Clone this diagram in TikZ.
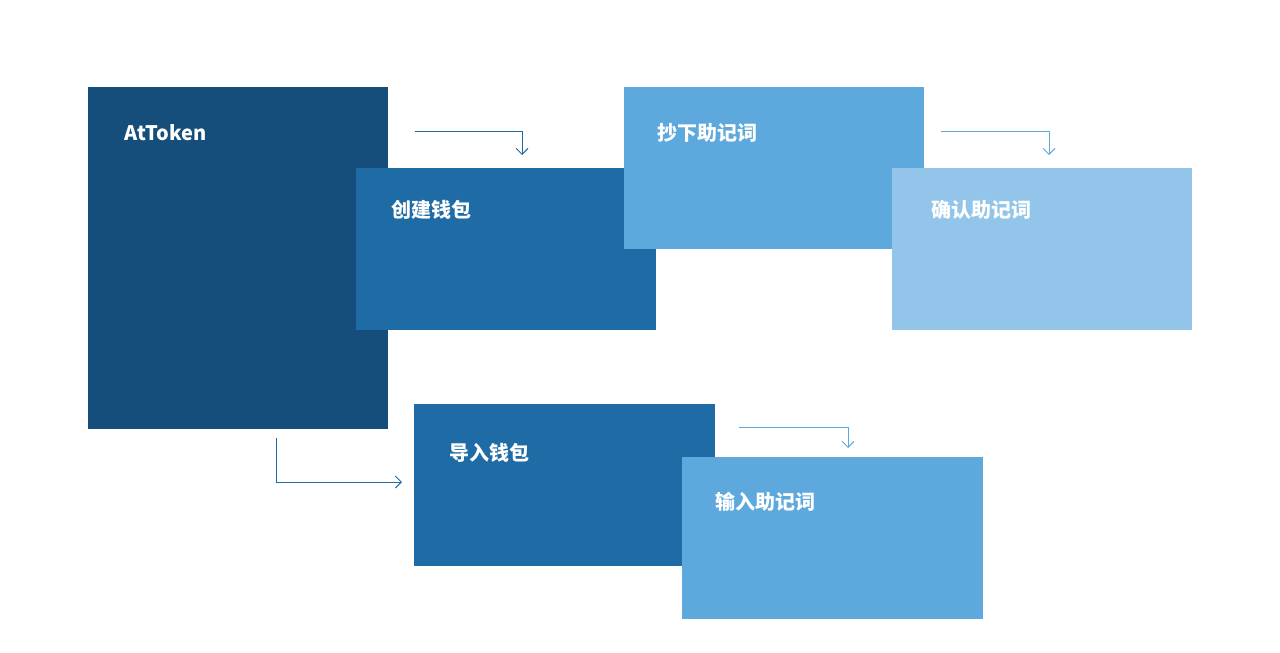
\documentclass[tikz,border=0pt]{standalone}
\usepackage{fontspec}
\setmainfont{Noto Sans CJK SC}
\usetikzlibrary{arrows.meta}
\definecolor{c1}{HTML}{154E7A}
\definecolor{c2}{HTML}{1F6BA5}
\definecolor{c3}{HTML}{5DA8DC}
\definecolor{c4}{HTML}{93C5EA}
\tikzset{
 box/.style={anchor=north west,minimum width=300pt,minimum height=162pt,inner sep=0pt},
 lab/.style={anchor=west,text=white,font=\fontsize{20pt}{24pt}\selectfont\bfseries},
 conn/.style={line width=0.9pt,-{Straight Barb[length=6pt,width=12pt]}}
}
\begin{document}
\begin{tikzpicture}[x=1pt,y=-1pt]
\useasboundingbox (0,0) rectangle (1280,653);
\node[box,fill=c1,minimum height=342pt] (at) at (88,87) {};
\node[box,fill=c2] (cj) at (356,168) {};
\node[box,fill=c3] (cx) at (624,87) {};
\node[box,fill=c4] (qr) at (892,168) {};
\node[box,fill=c2,minimum height=162pt,minimum width=301pt] (dr) at (414,404) {};
\node[box,fill=c3,minimum width=301pt] (sr) at (682,457) {};
\node[lab] (tat) at (121,133) {AtToken};
\node[lab] (tcj) at (388,210) {创建钱包};
\node[lab] (tcx) at (654,133) {抄下助记词};
\node[lab] (tqr) at (928,210) {确认助记词};
\node[lab] (tdr) at (446,453) {导入钱包};
\node[lab] (tsr) at (712,502) {输入助记词};
\coordinate (a1) at (415,131); \coordinate (b1) at (522,155);
\coordinate (a2) at (941,131); \coordinate (b2) at (1049,155);
\coordinate (a3) at (739,427); \coordinate (b3) at (848,448);
\coordinate (a4) at (276,438); \coordinate (b4) at (402,482);
\draw[conn,c2] (a1) -| (b1);
\draw[conn,c3] (a2) -| (b2);
\draw[conn,c3] (a3) -| (b3);
\draw[conn,c2] (a4) |- (b4);
\end{tikzpicture}
\end{document}
